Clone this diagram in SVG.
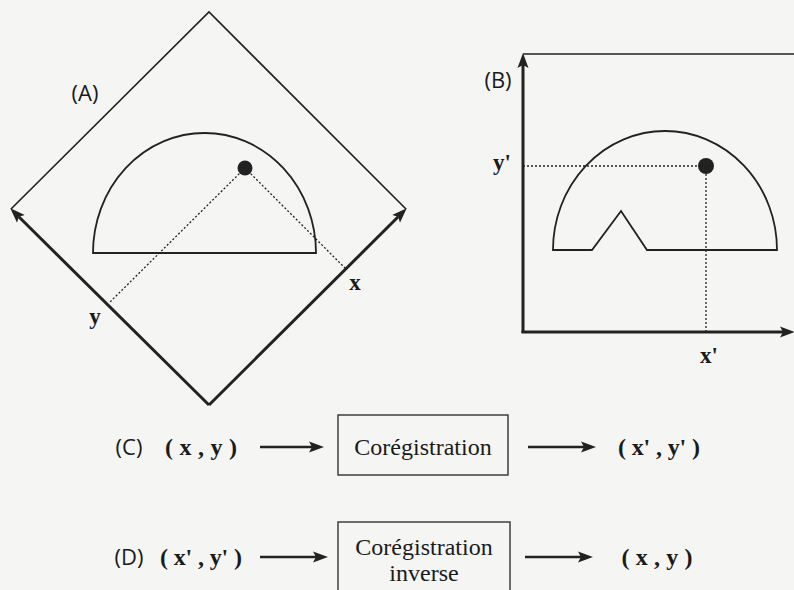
<svg xmlns="http://www.w3.org/2000/svg" width="794" height="590" viewBox="0 0 794 590">
<style>
.thin{fill:none;stroke:#222;stroke-width:1.6}
.thick{fill:none;stroke:#222;stroke-width:3;marker-end:url(#ah)}
.arr{fill:none;stroke:#222;stroke-width:2.6;marker-end:url(#ah)}
.dot{fill:none;stroke:#222;stroke-width:1.3;stroke-dasharray:2 2}
.shape{fill:none;stroke:#222;stroke-width:1.8}
.pt{fill:#222}
.lab{font-family:"Open Sans","Liberation Sans",sans-serif;font-size:22px;fill:#1a1a1a;text-anchor:middle}
.ax{font-family:"Liberation Serif",serif;font-weight:bold;font-size:23px;fill:#1a1a1a;text-anchor:middle}
.co{font-family:"Liberation Serif",serif;font-weight:bold;font-size:24px;fill:#1a1a1a;text-anchor:middle}
.box{fill:none;stroke:#333;stroke-width:1.4}
.bt{font-family:"Liberation Serif",serif;font-size:24px;fill:#1a1a1a;text-anchor:middle}
</style>
<defs>
<marker id="ah" markerUnits="userSpaceOnUse" markerWidth="16" markerHeight="12" refX="3" refY="6" orient="auto">
<path d="M0,0.5 L15,6 L0,11.5 L3,6 z" fill="#222"/>
</marker>
</defs>
<rect width="794" height="590" fill="#f5f5f4"/>

<g id="panelA">
<path class="thin" d="M11,209 L209,12 L406,209"/>
<path class="shape" d="M93,253 A111.5,120 0 0 1 316,253 Z"/>
<circle class="pt" cx="245" cy="168" r="7.5"/>
<text class="lab" x="85" y="101">(A)</text>
</g>

<g id="panelB">
<line class="thin" x1="523" y1="54" x2="794" y2="54"/>
<path class="shape" d="M553,250 A112,119 0 0 1 777,250 L647,250 L621,211 L592,250 Z"/>
<circle class="pt" cx="706" cy="166" r="8"/>
<text class="lab" x="498" y="88">(B)</text>
</g>

<g id="connectors">
<line class="thick" x1="209" y1="405" x2="18.8" y2="216.8"/>
<line class="thick" x1="209" y1="405" x2="398.2" y2="216.8"/>
<line class="dot" x1="245" y1="168" x2="110" y2="302"/>
<line class="dot" x1="245" y1="168" x2="345" y2="268"/>
<line class="thick" x1="523" y1="333" x2="523" y2="65"/>
<line class="thick" x1="521.5" y1="332" x2="783" y2="332"/>
<line class="dot" x1="523" y1="166" x2="706" y2="166"/>
<line class="dot" x1="706" y1="166" x2="706" y2="331"/>
<line class="arr" x1="260" y1="447" x2="312" y2="447"/>
<line class="arr" x1="528" y1="447" x2="584" y2="447"/>
<line class="arr" x1="260" y1="557" x2="316" y2="557"/>
<line class="arr" x1="525" y1="557" x2="581" y2="557"/>
</g>

<g id="axis-labels">
<text class="ax" x="355" y="290">x</text>
<text class="ax" x="95" y="324">y</text>
<text class="ax" x="502" y="170">y'</text>
<text class="ax" x="709" y="363">x'</text>
</g>

<g id="rowC">
<text class="lab" x="129" y="455">(C)</text>
<text class="co" x="201" y="455" textLength="72" lengthAdjust="spacing">( x , y )</text>
<rect class="box" x="338" y="415" width="170" height="60"/>
<text class="bt" x="423" y="455">Corégistration</text>
<text class="co" x="659" y="455" textLength="82" lengthAdjust="spacing">( x' , y' )</text>
</g>

<g id="rowD">
<text class="lab" x="129" y="565">(D)</text>
<text class="co" x="201" y="565" textLength="82" lengthAdjust="spacing">( x' , y' )</text>
<rect class="box" x="338" y="522" width="172" height="80"/>
<text class="bt" x="424" y="555">Corégistration</text>
<text class="bt" x="424" y="581">inverse</text>
<text class="co" x="657" y="565" textLength="71" lengthAdjust="spacing">( x , y )</text>
</g>
</svg>
